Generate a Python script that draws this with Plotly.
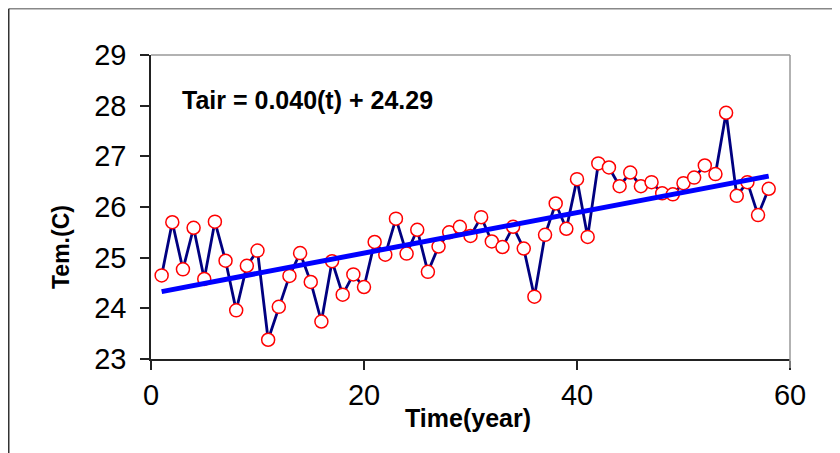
import plotly.graph_objects as go

years = list(range(1, 59))
temps = [24.65, 25.70, 24.77, 25.59, 24.58, 25.71, 24.94, 23.96, 24.84, 25.14,
         23.38, 24.03, 24.64, 25.09, 24.52, 23.74, 24.93, 24.27, 24.67, 24.42,
         25.31, 25.06, 25.77, 25.08, 25.55, 24.72, 25.22, 25.50, 25.61, 25.43,
         25.80, 25.32, 25.21, 25.61, 25.18, 24.23, 25.45, 26.07, 25.57, 26.55,
         25.41, 26.86, 26.78, 26.41, 26.68, 26.41, 26.49, 26.27, 26.25, 26.47,
         26.58, 26.82, 26.65, 27.86, 26.22, 26.49, 25.84, 26.36]
slope = 0.040
intercept = 24.29
trend_x = [years[0], years[-1]]
trend_y = [intercept + slope * t for t in trend_x]
x_ticks = [0, 20, 40, 60]
y_ticks = [23, 24, 25, 26, 27, 28, 29]

OFF = 8  # page body margin
W, H = 840, 453
L, T = 151 - OFF, 55 - OFF
pw, ph = 639, 304
R, B = W - L - pw, H - T - ph

def px(x):
    return (x - OFF - L) / pw

def py(y):
    return (T + ph - (y - OFF)) / ph

fig = go.Figure()
fig.add_trace(go.Scatter(x=years, y=temps, mode="lines+markers",
                         line=dict(color="#000080", width=2.8),
                         marker=dict(size=13, color="white",
                                     line=dict(color="#FF0000", width=1.5)),
                         showlegend=False))
fig.add_trace(go.Scatter(x=trend_x, y=trend_y, mode="lines",
                         line=dict(color="#0000FF", width=5),
                         showlegend=False))

font_family = "Liberation Sans, Arial, sans-serif"
fig.update_layout(
    width=W, height=H,
    margin=dict(l=L, r=R, t=T, b=B),
    paper_bgcolor="white", plot_bgcolor="white",
    font=dict(family=font_family, color="black"),
    xaxis=dict(range=[0, 60], tickvals=x_ticks, showgrid=False, zeroline=False,
               showline=True, linecolor="#222", linewidth=1.5,
               ticks="outside", ticklen=9, tickcolor="#222", tickwidth=1.5,
               tickfont=dict(size=29, family=font_family)),
    yaxis=dict(range=[23, 29], tickvals=y_ticks, showgrid=False, zeroline=False,
               showline=True, linecolor="#222", linewidth=1.5,
               ticks="outside", ticklen=9, tickcolor="#222", tickwidth=1.5,
               ticklabelstandoff=8,
               tickfont=dict(size=29, family=font_family)),
    shapes=[
        dict(type="line", xref="paper", yref="paper", x0=0, x1=1, y0=1, y1=1,
             line=dict(color="#999", width=1.5)),
        dict(type="line", xref="paper", yref="paper", x0=1, x1=1, y0=1, y1=py(368),
             line=dict(color="#999", width=1.5)),
        dict(type="line", xref="paper", yref="paper", x0=px(OFF + 0.75), x1=px(850),
             y0=py(OFF + 0.75), y1=py(OFF + 0.75),
             line=dict(color="#888", width=1.5)),
        dict(type="line", xref="paper", yref="paper", x0=px(OFF + 0.75), x1=px(OFF + 0.75),
             y0=py(OFF + 0.75), y1=py(470),
             line=dict(color="#333", width=1.5)),
    ],
    annotations=[
        dict(text="<b>Tair = 0.040(t) + 24.29</b>", xref="paper", yref="paper",
             x=px(180), y=py(100), xanchor="left", yanchor="middle", showarrow=False,
             font=dict(size=25, family=font_family)),
        dict(text="<b>Time(year)</b>", xref="paper", yref="paper",
             x=px(468), y=py(418), xanchor="center", yanchor="middle", showarrow=False,
             font=dict(size=25, family=font_family)),
        dict(text="<b>Tem.(C)</b>", xref="paper", yref="paper",
             x=px(61), y=py(247), xanchor="center", yanchor="middle", showarrow=False,
             textangle=-90, font=dict(size=23, family=font_family)),
    ],
)

fig.write_html("out.html")
